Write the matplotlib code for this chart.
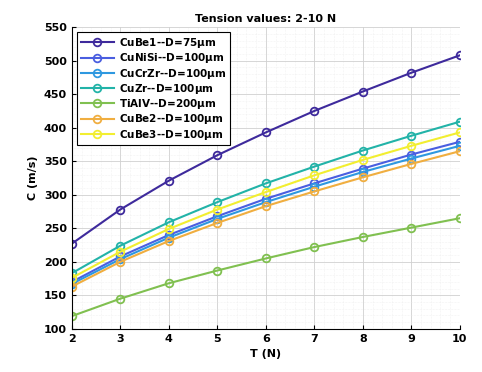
import matplotlib
matplotlib.use('Agg')
import matplotlib.pyplot as plt
from matplotlib.ticker import MultipleLocator

# tension values (N)
tension = [2, 3, 4, 5, 6, 7, 8, 9, 10]

# wave speed C (m/s) for each wire
cube1 = [227, 278, 321, 359, 393, 425, 454, 482, 508]
cunisi = [170, 208, 240, 268, 294, 317, 339, 360, 379]
cucrzr = [167, 204, 236, 264, 289, 312, 334, 354, 373]
cuzr = [183, 224, 259, 289, 317, 342, 366, 388, 409]
tialv = [119, 145, 168, 187, 205, 222, 237, 251, 265]
cube2 = [163, 200, 231, 258, 283, 305, 326, 346, 365]
cube3 = [176, 215, 249, 278, 304, 329, 352, 373, 393]

labels = [r'CuBe1--D=75$\mu$m', r'CuNiSi--D=100$\mu$m', r'CuCrZr--D=100$\mu$m',
          r'CuZr--D=100$\mu$m', r'TiAlV--D=200$\mu$m', r'CuBe2--D=100$\mu$m',
          r'CuBe3--D=100$\mu$m']
series = [cube1, cunisi, cucrzr, cuzr, tialv, cube2, cube3]
colors = ['#3e2a9c', '#4a5ee0', '#2e98e0', '#22b3a8', '#80c050', '#f0ae40', '#f2ee30']

plt.rcParams['mathtext.default'] = 'regular'
fig = plt.figure(figsize=(4.82, 3.72), dpi=100)
ax = fig.add_axes([0.149, 0.116, 0.805, 0.811])

for y, lab, c in zip(series, labels, colors):
    ax.plot(tension, y, '-o', color=c, label=lab, lw=1.5, ms=5.5,
            mfc='none', mew=1.3)

ax.set_xlim(2, 10)
ax.set_ylim(100, 550)
ax.xaxis.set_major_locator(MultipleLocator(1))
ax.yaxis.set_major_locator(MultipleLocator(50))
ax.xaxis.set_minor_locator(MultipleLocator(0.2))
ax.yaxis.set_minor_locator(MultipleLocator(10))
ax.grid(which='major', color='#d0d0d0', lw=0.6)
ax.grid(which='minor', color='#e8e8e8', lw=0.4, ls=':')
ax.tick_params(which='both', direction='in', labelsize=8, length=3)
ax.tick_params(which='minor', length=0)
for t in ax.get_xticklabels() + ax.get_yticklabels():
    t.set_fontweight('bold')
for s in ['top', 'right']:
    ax.spines[s].set_visible(False)

ax.set_xlabel('T (N)', fontsize=8, fontweight='bold')
ax.set_ylabel('C (m/s)', fontsize=8, fontweight='bold')
ax.set_title('Tension values: 2-10 N', fontsize=8, fontweight='bold', pad=4)

leg = ax.legend(loc='upper left', prop={'weight': 'bold', 'size': 7.5},
                fancybox=False, edgecolor='black', framealpha=1,
                handlelength=3.2, labelspacing=0.12, borderaxespad=0.5,
                handletextpad=0.5, borderpad=0.35)
leg.get_frame().set_linewidth(0.8)

fig.savefig('out.png', dpi=100)
